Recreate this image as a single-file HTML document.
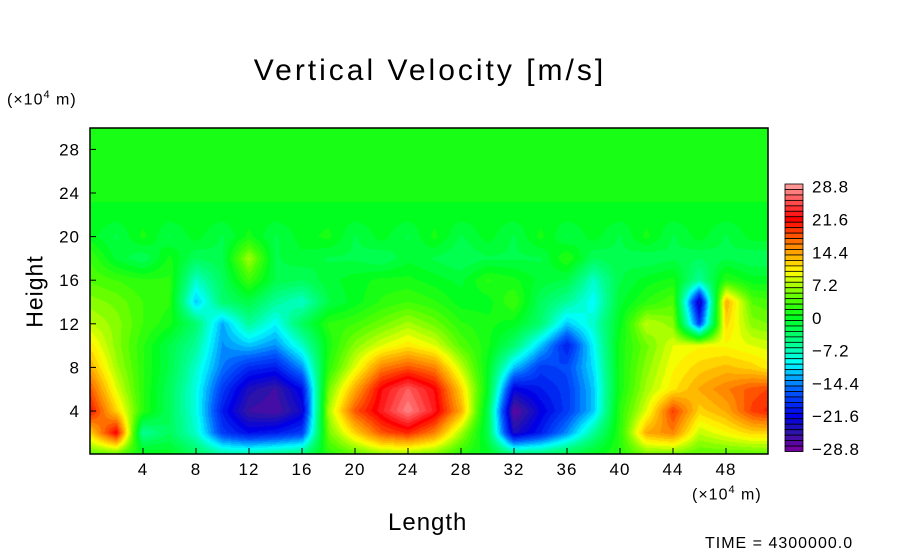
<!DOCTYPE html>
<html><head><meta charset="utf-8"><style>
body{margin:0;background:#fff;width:904px;height:544px;overflow:hidden;position:relative;font-family:"Liberation Sans",sans-serif;}
.t{position:absolute;color:#000;white-space:nowrap}
</style></head><body>
<div class="t" style="left:0;width:860px;text-align:center;top:54px;font-size:30px;letter-spacing:3px">Vertical Velocity [m/s]</div>
<div class="t" style="left:7px;top:89px;font-size:16px;letter-spacing:1px">(×10<sup style="font-size:11px">4</sup> m)</div>
<div class="t" style="left:692px;top:484px;font-size:16px;letter-spacing:1px">(×10<sup style="font-size:11px">4</sup> m)</div>
<div class="t" style="left:-4px;top:278px;font-size:23px;letter-spacing:1px;transform:rotate(-90deg);width:78px;text-align:center">Height</div>
<div class="t" style="left:388px;top:509px;font-size:24px;letter-spacing:1px">Length</div>
<div class="t" style="left:705px;top:535px;font-size:16px;letter-spacing:1px">TIME = 4300000.0</div>
<canvas id="cv" width="678" height="326" style="position:absolute;left:90px;top:128px"></canvas>
<svg id="sv" width="904" height="544" style="position:absolute;left:0;top:0"></svg>
<script>
const xCoords=[0,2,4,6,8,10,12,14,16,18,20,22,24,26,28,30,32,34,36,38,40,42,44,46,48,50,52];
const yCoords=[30,28,26,24,22,20,18,16,14,12,10,8,6,4,2,0];
const values=[
[1,1,1,1,1,1,1,1,1,1,1,1,1,1,1,1,1,1,1,1,1,1,1,1,1,1,1],
[1,1,1,1,1,1,1,1,1,1,1,1,1,1,1,1,1,1,1,1,1,1,1,1,1,1,1],
[1,1,1,1,1,1,1,1,1,1,1,1,1,1,1,1,1,1,1,1,1,1,1,1,1,1,1],
[1,1,1,1,1,1,1,1,1,1,1,1,1,1,1,1,1,1,1,1,1,1,1,1,1,1,1],
[0,0,0,0,0,0,0,0,0,0,0,0,0,0,0,0,0,0,0,0,0,0,0,0,0,0,0],
[0,-2,1,-2,0,-2,1,-2,0,1,-2,0,-2,1,-2,0,-2,1,-2,0,-2,1,-2,0,-2,0,0],
[3,-1,-3,1,-3,-2,7,-2,-1,-2,-2,-3,-1,-2,-3,-2,-2,-2,2,-3,-2,-3,-2,-3,-2,-3,-3],
[4,3,2,2,-8,-3,3,-2,-3,-1,0,1,1,0,-1,2,1,-1,-2,-8,-2,0,1,-6,2,0,0],
[6,5,3,2,-12,-4,-2,-6,-8,-2,0,2,3,2,0,0,3,-3,-6,-10,-1,2,4,-24,14,4,3],
[8,6,3,1,-4,-13,-6,-10,-3,2,3,5,7,5,2,1,0,-4,-12,-8,0,8,6,-18,12,6,5],
[11,6,2,-2,-6,-14,-12,-14,-8,1,6,9,11,9,4,1,-4,-12,-20,-10,1,5,9,10,10,9,8],
[14,7,2,-2,-8,-15,-19,-20,-14,2,9,16,18,16,8,0,-12,-18,-17,-11,1,6,10,12,13,12,10],
[18,9,2,-3,-9,-18,-24,-26,-21,5,14,22,26,22,12,0,-22,-20,-18,-12,1,7,11,14,16,18,19],
[21,12,2,-3,-9,-20,-26,-27,-23,7,18,23,28,23,14,-2,-28,-22,-18,-12,2,9,19,12,14,19,21],
[12,22,-6,-3,-8,-18,-21,-20,-18,5,12,18,20,16,7,-2,-24,-20,-14,-6,2,14,16,8,10,12,12],
[4,4,1,0,-3,-6,-6,-5,-4,2,4,6,6,5,2,0,-4,-4,-2,0,2,5,5,4,4,4,4]];
const xTicks=[4,8,12,16,20,24,28,32,36,40,44,48];
const yTicks=[4,8,12,16,20,24,28];
const cbLabels=["28.8","21.6","14.4","7.2","0","\u22127.2","\u221214.4","\u221221.6","\u221228.8"];
const stops=[[-28.8,[112,0,160]],[-25,[40,20,170]],[-21.6,[0,0,230]],[-16,[0,90,255]],[-13,[0,170,255]],[-10,[0,255,255]],[-6,[0,255,150]],[0,[0,255,30]],[4,[80,255,0]],[7.2,[170,255,0]],[10,[255,255,0]],[13,[255,190,0]],[16,[255,130,0]],[19,[255,60,0]],[21.6,[255,0,0]],[25,[255,70,70]],[28.8,[255,150,150]]];
function color(v){v=Math.max(-28.8,Math.min(28.8,v));for(let i=1;i<stops.length;i++){if(v<=stops[i][0]){const a=stops[i-1],b=stops[i];const t=(v-a[0])/(b[0]-a[0]);return a[1].map((c,k)=>Math.round(c+(b[1][k]-c)*t));}}return stops[stops.length-1][1];}
const X0=90,XS=13.25,Y0=454.6,YS=10.9;
const sx=x=>X0+XS*x, sy=y=>Y0-YS*y;
function val(x,y){
 const fx=x/2, fy=(30-y)/2;
 const i=Math.max(0,Math.min(25,Math.floor(fx))), j=Math.max(0,Math.min(14,Math.floor(fy)));
 const tx=fx-i, ty=fy-j;
 const a=values[j][i],b=values[j][i+1],c=values[j+1][i],d=values[j+1][i+1];
 return (a*(1-tx)+b*tx)*(1-ty)+(c*(1-tx)+d*tx)*ty;}
const cv=document.getElementById('cv'),ctx=cv.getContext('2d');
const img=ctx.createImageData(678,326);
for(let py=0;py<326;py++)for(let px=0;px<678;px++){
 const x=(px+0.5)/XS, y=(Y0-128-py-0.5)/YS;
 let v=val(x,y); v=Math.round(v/1.2)*1.2;
 const c=color(v),o=(py*678+px)*4;
 img.data[o]=c[0];img.data[o+1]=c[1];img.data[o+2]=c[2];img.data[o+3]=255;}
ctx.putImageData(img,0,0);
const sv=document.getElementById('sv'),NS='http://www.w3.org/2000/svg';
function mk(t,a){const e=document.createElementNS(NS,t);for(const k in a)e.setAttribute(k,a[k]);sv.appendChild(e);return e;}
const fr=mk('rect',{x:90,y:128,width:678,height:326,fill:'none',stroke:'#000','stroke-width':1.5});


xTicks.forEach(t=>{
 const l=mk('line',{x1:sx(t),x2:sx(t),y1:454,y2:448,stroke:'#000'});
 
 
 const tx=mk('text',{x:sx(t),y:475,'text-anchor':'middle','font-size':17,'letter-spacing':1,'font-family':'Liberation Sans, sans-serif'});
 tx.textContent=t;
 
 });
yTicks.forEach(t=>{
 const l=mk('line',{x1:90,x2:96,y1:sy(t),y2:sy(t),stroke:'#000'});
 
 
 const tx=mk('text',{x:80,y:sy(t)+6,'text-anchor':'end','font-size':17,'letter-spacing':1,'font-family':'Liberation Sans, sans-serif'});
 tx.textContent=t;
 
 });
const BH=5.46,BT=184;
for(let k=0;k<49;k++){
 const v=28.8-1.2*k,c=color(v);
 const r=mk('rect',{x:785,y:BT+k*BH,width:18,height:BH,fill:`rgb(${c})`,stroke:'#000','stroke-width':0.8});
 
 }
cbLabels.forEach((s,i)=>{
 const tx=mk('text',{x:812,y:BT+BH*(6*i+0.5)+6,'font-size':17,'letter-spacing':1,'font-family':'Liberation Sans, sans-serif'});
 tx.textContent=s;
 
 });
</script>
</body></html>
